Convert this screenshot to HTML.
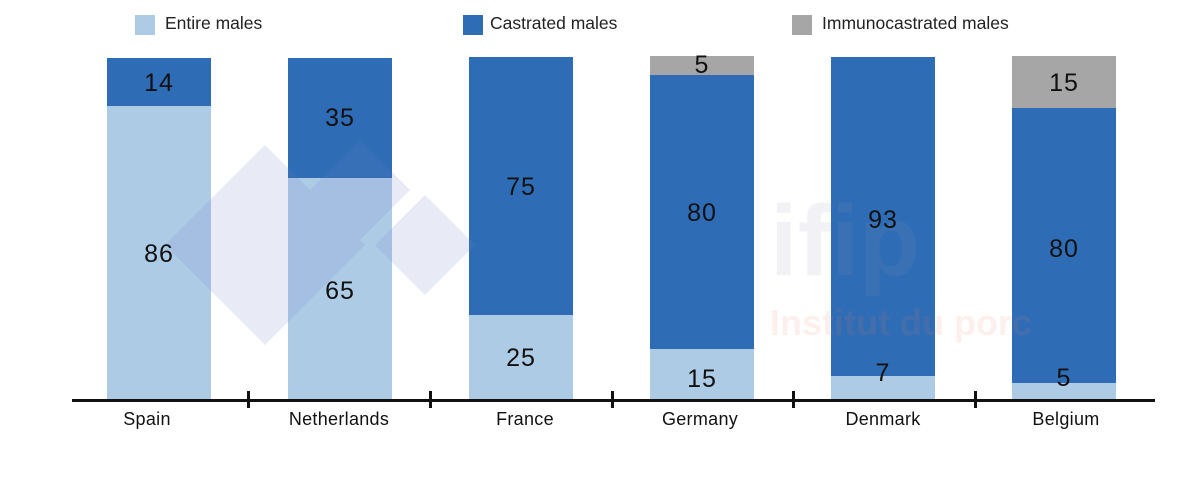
<!DOCTYPE html>
<html><head><style>
body{margin:0;background:#fff;width:1195px;height:497px;overflow:hidden;position:relative;font-family:"Liberation Sans",Arial,sans-serif;}
.a{position:absolute;}
.bar{position:absolute;width:104px;}
.l{background:#aecbe6}.d{background:#2e6db5}.g{background:#a6a6a6}
.v{position:absolute;width:104px;text-align:center;font-size:25px;color:#111;letter-spacing:1px;}
.c{position:absolute;width:160px;text-align:center;font-size:18px;color:#111;top:409px;letter-spacing:0.3px;}
.lg{position:absolute;top:15px;width:20px;height:20px;}
.lt{position:absolute;top:13px;font-size:17.5px;color:#222;}
.tk{position:absolute;top:391px;width:3px;height:17px;background:#111;}
</style></head><body>
<div class="lg l" style="left:135px"></div><div class="lt" style="left:165px">Entire males</div>
<div class="lg d" style="left:463px"></div><div class="lt" style="left:490px">Castrated males</div>
<div class="lg g" style="left:792px"></div><div class="lt" style="left:822px">Immunocastrated males</div>

<div class="bar d" style="left:107px;top:58px;height:48px"></div>
<div class="bar l" style="left:107px;top:106px;height:295px"></div>
<div class="bar d" style="left:288px;top:58px;height:120px"></div>
<div class="bar l" style="left:288px;top:178px;height:223px"></div>
<div class="bar d" style="left:469px;top:57px;height:258px"></div>
<div class="bar l" style="left:469px;top:315px;height:86px"></div>
<div class="bar g" style="left:650px;top:56px;height:19px"></div>
<div class="bar d" style="left:650px;top:75px;height:274px"></div>
<div class="bar l" style="left:650px;top:349px;height:52px"></div>
<div class="bar d" style="left:831px;top:57px;height:319px"></div>
<div class="bar l" style="left:831px;top:376px;height:25px"></div>
<div class="bar g" style="left:1012px;top:56px;height:52px"></div>
<div class="bar d" style="left:1012px;top:108px;height:275px"></div>
<div class="bar l" style="left:1012px;top:383px;height:18px"></div>

<svg class="a" style="left:0;top:0" width="1195" height="497">
<g fill="rgba(110,130,200,0.16)">
<polygon points="265,145 365,245 265,345 165,245"/>
<polygon points="360,140 410,190 360,240 310,190"/>
<polygon points="425,195 475,245 425,295 375,245"/>
</g>
<text x="770" y="275" font-size="100" font-weight="bold" fill="rgba(150,150,180,0.12)" font-family="Liberation Sans">ifip</text>
<text x="770" y="335" font-size="36" font-weight="bold" fill="rgba(230,120,100,0.12)" font-family="Liberation Sans">Institut du porc</text>
</svg>

<div class="v" style="left:107px;top:69px">14</div>
<div class="v" style="left:107px;top:240px">86</div>
<div class="v" style="left:288px;top:104px">35</div>
<div class="v" style="left:288px;top:277px">65</div>
<div class="v" style="left:469px;top:173px">75</div>
<div class="v" style="left:469px;top:344px">25</div>
<div class="v" style="left:650px;top:51px">5</div>
<div class="v" style="left:650px;top:199px">80</div>
<div class="v" style="left:650px;top:365px">15</div>
<div class="v" style="left:831px;top:206px">93</div>
<div class="v" style="left:831px;top:359px">7</div>
<div class="v" style="left:1012px;top:69px">15</div>
<div class="v" style="left:1012px;top:235px">80</div>
<div class="v" style="left:1012px;top:364px">5</div>

<div class="a" style="left:72px;top:399px;width:1083px;height:3px;background:#111"></div>
<div class="tk" style="left:247px"></div><div class="tk" style="left:429px"></div>
<div class="tk" style="left:611px"></div><div class="tk" style="left:792px"></div>
<div class="tk" style="left:974px"></div>

<div class="c" style="left:67px">Spain</div>
<div class="c" style="left:259px">Netherlands</div>
<div class="c" style="left:445px">France</div>
<div class="c" style="left:620px">Germany</div>
<div class="c" style="left:803px">Denmark</div>
<div class="c" style="left:986px">Belgium</div>
</body></html>
